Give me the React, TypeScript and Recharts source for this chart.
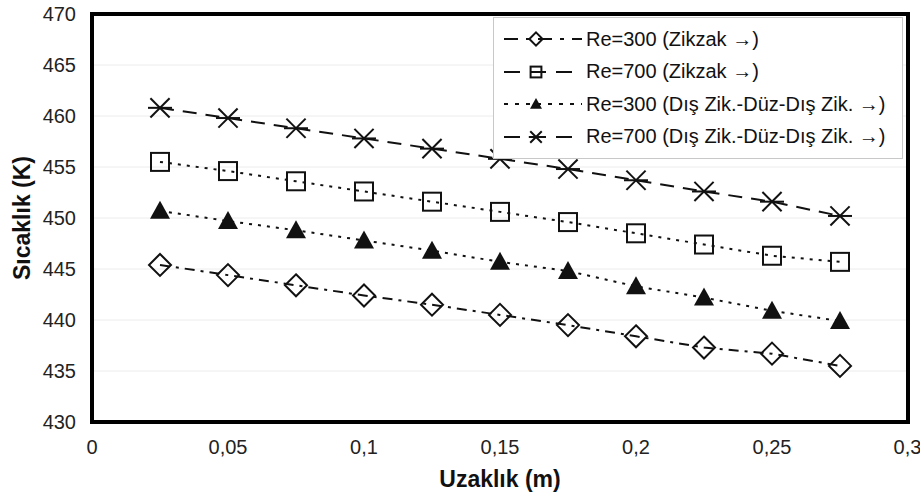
import React from "react";
import {
  LineChart,
  Line,
  XAxis,
  YAxis,
  CartesianGrid,
  ReferenceArea,
} from "recharts";

const distances = [0.025, 0.05, 0.075, 0.1, 0.125, 0.15, 0.175, 0.2, 0.225, 0.25, 0.275];
const re300Zikzak = [445.4, 444.4, 443.4, 442.4, 441.5, 440.5, 439.5, 438.4, 437.3, 436.7, 435.5];
const re700Zikzak = [455.5, 454.6, 453.6, 452.6, 451.6, 450.6, 449.6, 448.5, 447.4, 446.3, 445.7];
const re300Dis = [450.7, 449.7, 448.8, 447.8, 446.8, 445.7, 444.8, 443.3, 442.2, 440.9, 439.9];
const re700Dis = [460.8, 459.8, 458.8, 457.8, 456.8, 455.8, 454.8, 453.7, 452.6, 451.6, 450.2];

const xTicks = [0, 0.05, 0.1, 0.15, 0.2, 0.25, 0.3];
const yTicks = [430, 435, 440, 445, 450, 455, 460, 465, 470];

const data = distances.map((x, i) => ({
  x,
  r300z: re300Zikzak[i],
  r700z: re700Zikzak[i],
  r300d: re300Dis[i],
  r700d: re700Dis[i],
}));

type Kind = "diamond" | "square" | "triangle" | "star";

// dash = line in the plot, legendDash = sample in the legend (they differ in the original)
const series: { key: string; name: string; kind: Kind; dash: string; legendDash: string }[] = [
  { key: "r300z", name: "Re=300 (Zikzak \u2192)", kind: "diamond", dash: "10 6 3 6", legendDash: "14 8 4 8" },
  { key: "r700z", name: "Re=700 (Zikzak \u2192)", kind: "square", dash: "3 6", legendDash: "16 10" },
  { key: "r300d", name: "Re=300 (D\u0131\u015f Zik.-D\u00fcz-D\u0131\u015f Zik. \u2192)", kind: "triangle", dash: "3 6", legendDash: "4 7" },
  { key: "r700d", name: "Re=700 (D\u0131\u015f Zik.-D\u00fcz-D\u0131\u015f Zik. \u2192)", kind: "star", dash: "14 9", legendDash: "16 10" },
];

const FONT = "'Liberation Sans', Arial, sans-serif";

function Marker({ kind, cx, cy, s = 1 }: { kind: Kind; cx: number; cy: number; s?: number }) {
  if (kind === "diamond") {
    const r = 11 * s;
    return (
      <polygon
        points={`${cx},${cy - r} ${cx + r},${cy} ${cx},${cy + r} ${cx - r},${cy}`}
        fill="none"
        stroke="#111"
        strokeWidth={2}
      />
    );
  }
  if (kind === "square") {
    const h = 9 * s;
    return <rect x={cx - h} y={cy - h} width={2 * h} height={2 * h} fill="none" stroke="#111" strokeWidth={2} />;
  }
  if (kind === "triangle") {
    const h = 10 * s;
    return (
      <polygon
        points={`${cx},${cy - h} ${cx + h},${cy + h * 0.8} ${cx - h},${cy + h * 0.8}`}
        fill="#111"
      />
    );
  }
  const r = 12 * s;
  return (
    <g stroke="#111" strokeWidth={2}>
      <line x1={cx - r * 0.8} y1={cy - r * 0.8} x2={cx + r * 0.8} y2={cy + r * 0.8} />
      <line x1={cx - r * 0.8} y1={cy + r * 0.8} x2={cx + r * 0.8} y2={cy - r * 0.8} />
      <line x1={cx - r} y1={cy} x2={cx + r} y2={cy} />
    </g>
  );
}

const dotFor = (kind: Kind) => (p: any) => (
  <Marker key={`${kind}-${p.index}`} kind={kind} cx={p.cx} cy={p.cy} />
);

function LegendBox() {
  return (
    <div
      style={{
        position: "absolute",
        left: 493,
        top: 17,
        width: 410,
        boxSizing: "border-box",
        background: "#fff",
        border: "1px solid #c8c8c8",
        padding: "5px 0 5px 8px",
        fontFamily: FONT,
        fontSize: 20,
        color: "#111",
      }}
    >
      {series.map((s) => (
        <div key={s.key} style={{ display: "flex", alignItems: "center", height: 32.5, whiteSpace: "nowrap" }}>
          <svg width={84} height={24} style={{ flex: "none" }}>
            <line x1={2} y1={12} x2={80} y2={12} stroke="#111" strokeWidth={2} strokeDasharray={s.legendDash} />
            <Marker kind={s.kind} cx={34} cy={12} s={0.6} />
          </svg>
          <span>{s.name}</span>
        </div>
      ))}
    </div>
  );
}

const YLabel = (props: any) => {
  const { viewBox } = props;
  const x = 24;
  const y = viewBox.y + viewBox.height / 2;
  return (
    <text
      x={x}
      y={y}
      transform={`rotate(-90, ${x}, ${y})`}
      textAnchor="middle"
      dominantBaseline="middle"
      fontFamily={FONT}
      fontSize={23}
      fontWeight="bold"
      fill="#111"
    >
      Sıcaklık (K)
    </text>
  );
};

const XLabel = (props: any) => {
  const { viewBox } = props;
  return (
    <text
      x={viewBox.x + viewBox.width / 2}
      y={487}
      textAnchor="middle"
      fontFamily={FONT}
      fontSize={23}
      fontWeight="bold"
      fill="#111"
    >
      Uzaklık (m)
    </text>
  );
};

export default function App() {
  return (
    <div style={{ position: "absolute", left: 0, top: 0, width: 920, height: 498, background: "#fff" }}>
      <LineChart width={920} height={498} data={data} margin={{ top: 14, right: 12, left: 0, bottom: 0 }}>
        <CartesianGrid vertical={false} stroke="#ececec" />
        <XAxis
          type="number"
          dataKey="x"
          domain={[0, 0.3]}
          ticks={xTicks}
          tickFormatter={(v: number) => String(v).replace(".", ",")}
          axisLine={false}
          tickLine={false}
          tickSize={0}
          tickMargin={18}
          height={76}
          tick={{ fill: "#222", fontSize: 20, fontFamily: FONT }}
          label={<XLabel />}
        />
        <YAxis
          type="number"
          domain={[430, 470]}
          ticks={yTicks}
          axisLine={false}
          tickLine={false}
          tickSize={0}
          tickMargin={16}
          width={92}
          tick={{ fill: "#222", fontSize: 20, fontFamily: FONT }}
          label={<YLabel />}
        />
        {series.map((s) => (
          <Line
            key={s.key}
            dataKey={s.key}
            name={s.name}
            stroke="#111"
            strokeWidth={2}
            strokeDasharray={s.dash}
            dot={dotFor(s.kind)}
            activeDot={false}
            isAnimationActive={false}
          />
        ))}
        <ReferenceArea x1={0} x2={0.3} y1={430} y2={470} fill="none" stroke="#000" strokeWidth={4} ifOverflow="visible" />
      </LineChart>
      <LegendBox />
    </div>
  );
}
